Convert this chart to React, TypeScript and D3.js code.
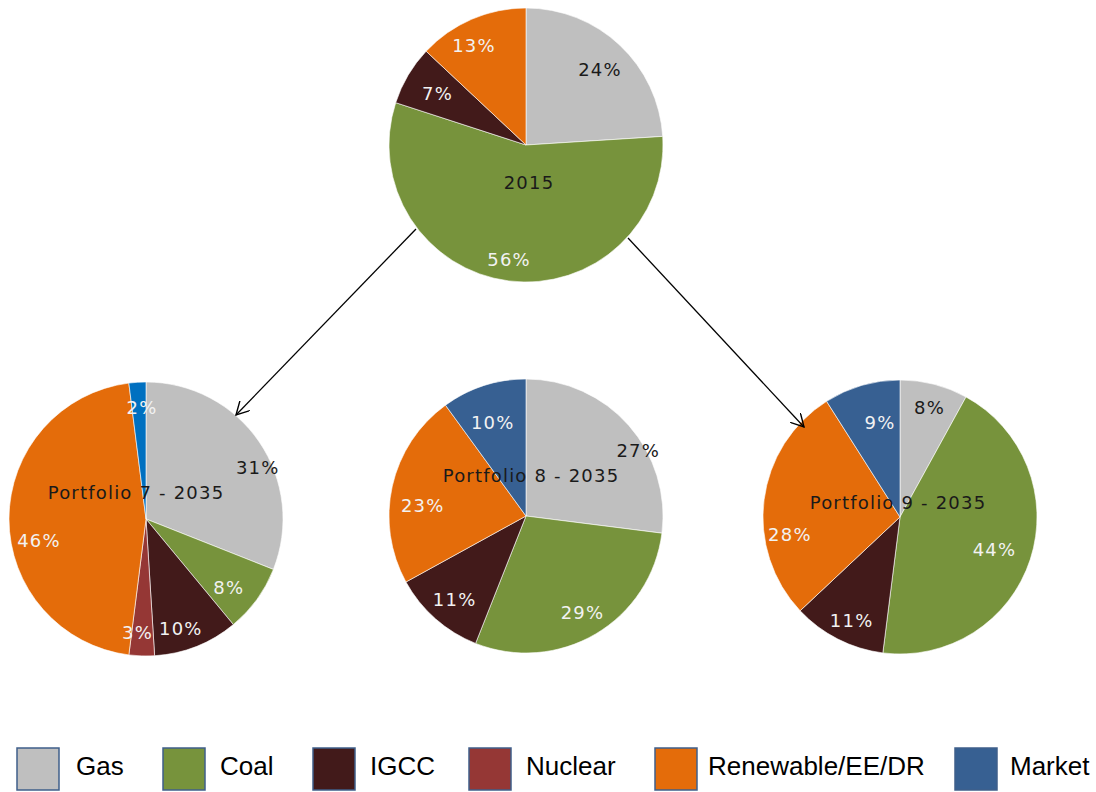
import React from "react";
import * as d3 from "d3";

const categories = ["Gas", "Coal", "IGCC", "Nuclear", "Renewable/EE/DR", "Market"];
const legendColors = ["#BFBFBF", "#77933C", "#421A1A", "#953735", "#E46C0A", "#376092"];

const pieTitles = ["2015", "Portfolio 7 - 2035", "Portfolio 8 - 2035", "Portfolio 9 - 2035"];
const values2015 = [24, 56, 7, 0, 13, 0];
const valuesP7 = [31, 8, 10, 3, 46, 2];
const valuesP8 = [27, 29, 11, 0, 23, 10];
const valuesP9 = [8, 44, 11, 0, 28, 9];
const p7MarketColor = "#0070C0";

const W = 1096;
const H = 792;

type PieSpec = {
  title: string;
  values: number[];
  cx: number;
  cy: number;
  titleDx: number;
  titleDy: number;
  colors: string[];
  nudges: [number, number][];
};

// layout: label nudges (best-fit placement) per non-zero slice, in slice order
const pies: PieSpec[] = [
  { title: pieTitles[0], values: values2015, cx: 526, cy: 145, titleDx: 3, titleDy: 37, colors: legendColors,
    nudges: [[-2, 2], [-3, 1], [7, 2], [-8, -1]] },
  { title: pieTitles[1], values: valuesP7, cx: 146, cy: 519, titleDx: -10, titleDy: -27, colors: legendColors.map((c, i) => (i === 5 ? p7MarketColor : c)),
    nudges: [[20, 8], [-7, 0], [-6, 3], [-5, 0], [4, 18], [3, -4]] },
  { title: pieTitles[2], values: valuesP8, cx: 526, cy: 516, titleDx: 5, titleDy: -41, colors: legendColors,
    nudges: [[29, 5], [0, -2], [2, -3], [5, 11], [1, 9]] },
  { title: pieTitles[3], values: valuesP9, cx: 900, cy: 517, titleDx: -2, titleDy: -15, colors: legendColors,
    nudges: [[2, -5], [-11, -5], [2, 2], [0, 28], [11, 9]] },
];

const R = 137;
const pieFont = "DejaVu Sans, Verdana, sans-serif";

function Pie({ spec }: { spec: PieSpec }) {
  const data = categories.map((c, i) => ({ cat: c, v: spec.values[i], i })).filter((d) => d.v > 0);
  const pie = d3.pie<any>().value((d) => d.v).sort(null);
  const arcs = pie(data);
  const arc = d3.arc<any>().innerRadius(0).outerRadius(R);
  const labelArc = d3.arc<any>().innerRadius(R * 0.81).outerRadius(R * 0.81);
  return (
    <g transform={`translate(${spec.cx},${spec.cy})`}>
      {arcs.map((a, k) => (
        <path key={k} d={arc(a) || ""} fill={spec.colors[a.data.i]} stroke="#ffffff" strokeWidth={0.6} />
      ))}
      {arcs.map((a, k) => {
        const [x, y] = labelArc.centroid(a);
        const n = spec.nudges[k] || [0, 0];
        return (
          <text
            key={"l" + k}
            x={x + n[0]}
            y={y + 3 + n[1]}
            textAnchor="middle"
            dominantBaseline="central"
            fontFamily={pieFont}
            fontSize={18}
            letterSpacing={1.2}
            fill={a.data.i === 0 ? "#1a1a1a" : "#f2f2f2"}
          >
            {a.data.v}%
          </text>
        );
      })}
      <text
        x={spec.titleDx}
        y={spec.titleDy}
        textAnchor="middle"
        dominantBaseline="central"
        fontFamily={pieFont}
        fontSize={18}
        letterSpacing={1.2}
        fill="#1a1a1a"
      >
        {spec.title}
      </text>
    </g>
  );
}

const legendBoxX = [17, 163, 313, 469, 655, 955];
const legendTextX = [76, 220, 370, 526, 708, 1010];

export default function App() {
  return (
    <svg width={W} height={H} style={{ position: "absolute", left: 0, top: 0, display: "block", background: "#fff" }}>
      <defs>
        <marker id="arrow" viewBox="0 0 12 12" refX="11" refY="6" markerWidth="14" markerHeight="14" markerUnits="userSpaceOnUse" orient="auto">
          <path d="M0,0 L11,6 L0,12" fill="none" stroke="#000" strokeWidth={1.2} />
        </marker>
      </defs>
      {pies.map((p, i) => (
        <Pie key={i} spec={p} />
      ))}
      <line x1={416} y1={229} x2={236} y2={415} stroke="#000" strokeWidth={1.3} markerEnd="url(#arrow)" />
      <line x1={628} y1={238} x2={804} y2={427} stroke="#000" strokeWidth={1.3} markerEnd="url(#arrow)" />
      {categories.map((c, i) => (
        <g key={c}>
          <rect x={legendBoxX[i]} y={748} width={42} height={42} fill={legendColors[i]} stroke="#3F5F8A" strokeWidth={1.5} />
          <text x={legendTextX[i]} y={775} fontFamily="Liberation Sans, Arial, sans-serif" fontSize={26} fill="#000">
            {c}
          </text>
        </g>
      ))}
    </svg>
  );
}
